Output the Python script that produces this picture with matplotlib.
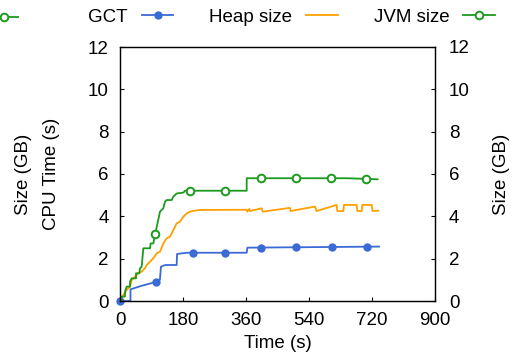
import matplotlib
matplotlib.use('Agg')
import matplotlib.pyplot as plt
from matplotlib.lines import Line2D

plt.rcParams['font.family'] = ['Liberation Sans', 'DejaVu Sans']
plt.rcParams['font.size'] = 13.5

# GCT (CPU time, s)
gct_t = [0, 30, 30, 62, 85, 103, 114, 117, 129, 162, 163, 190, 362, 364, 740]
gct_v = [0, 0, 0.55, 0.72, 0.82, 0.91, 1.0, 1.62, 1.7, 1.7, 2.22, 2.28, 2.28, 2.52, 2.57]
gct_mark_t = [0, 103, 208, 300, 403, 503, 605, 707]
gct_mark_v = [0, 0.91, 2.28, 2.28, 2.52, 2.54, 2.55, 2.57]

# Heap size (GB)
heap_t = [0, 9.5, 19, 28.6, 33.3, 42.9, 52.4, 61.9, 71.4, 76.2, 85.7, 95.2, 104.8, 114.3,
          123.8, 133.3, 142.9, 152.4, 161.9, 171.4, 181, 190.5, 200, 214, 228.6, 343, 362,
          364, 369.5, 371.4, 404.8, 407.6, 485.7, 487, 557, 561.9, 619, 621, 638, 640,
          676, 678, 690.5, 692.4, 719, 721.9, 738]
heap_v = [0, 0.28, 0.52, 0.68, 0.99, 1.15, 1.31, 1.39, 1.55, 1.70, 1.86, 2.02, 2.25, 2.33,
          2.72, 2.96, 3.04, 3.35, 3.67, 3.75, 3.98, 4.14, 4.22, 4.27, 4.30, 4.31, 4.31,
          4.22, 4.35, 4.25, 4.38, 4.22, 4.40, 4.25, 4.46, 4.25, 4.54, 4.25, 4.25, 4.54,
          4.54, 4.25, 4.25, 4.54, 4.54, 4.25, 4.27]

# JVM size (GB)
jvm_t = [0, 4.8, 4.8, 14.3, 14.3, 19, 28.6, 28.6, 33.3, 45.7, 45.7, 55.2, 57.1, 61.9, 66.7,
         85.7, 87.6, 95.2, 100, 114.3, 123.8, 128.6, 133.3, 147.6, 152.4, 161.9, 181, 185.7,
         362, 362, 650, 736]
jvm_v = [0, 0, 0.21, 0.21, 0.44, 0.68, 0.68, 0.91, 1.07, 1.07, 1.31, 1.31, 1.54, 1.62, 2.49,
         2.49, 2.72, 2.72, 3.12, 4.22, 4.38, 4.69, 4.77, 4.77, 4.93, 5.08, 5.12, 5.21,
         5.21, 5.80, 5.80, 5.75]
jvm_mark_t = [100, 200, 300, 403, 503, 604, 703]
jvm_mark_v = [3.15, 5.21, 5.21, 5.80, 5.80, 5.80, 5.75]

blue = '#3a6ad6'
orange = '#ffa000'
green = '#1c9a1c'

fig = plt.figure(figsize=(5.13, 3.64), dpi=100)
ax = fig.add_axes([120/513, 63/364, 315/513, 254/364])

ax.plot(gct_t, gct_v, color=blue, lw=1.3)
ax.plot(gct_mark_t, gct_mark_v, 'o', color=blue, ms=5, clip_on=False)
ax.plot(heap_t, heap_v, color=orange, lw=1.3)
ax.plot(jvm_t, jvm_v, color=green, lw=1.3)
ax.plot(jvm_mark_t, jvm_mark_v, 'o', color=green, mfc='white', mew=1.4, ms=5.5)

ax.set_xlim(0, 900)
ax.set_ylim(0, 12)
ax.set_xticks(range(0, 901, 180))
ax.set_yticks(range(0, 13, 2))
ax.tick_params(direction='in', length=3, width=0.8, pad=8, top=False, right=False)
ax.set_xlabel('Time (s)', labelpad=4)
ax.set_ylabel('Size (GB)\nCPU Time (s)', linespacing=1.9, labelpad=20)
for s in ax.spines.values():
    s.set_linewidth(1.0)
    s.set_color('#222222')

ax2 = ax.twinx()
ax2.set_ylim(0, 12)
ax2.set_yticks(range(0, 13, 2))
ax2.tick_params(direction='in', length=3, width=0.8, pad=10)
ax2.set_ylabel('Size (GB)', labelpad=17)

handles = [
    Line2D([], [], color=blue, lw=1.3, marker='o', ms=5),
    Line2D([], [], color=orange, lw=1.3),
    Line2D([], [], color=green, lw=1.3, marker='o', mfc='white', mew=1.4, ms=5.5),
]
fig.legend(handles, ['GCT', 'Heap size', 'JVM size'], ncol=3, markerfirst=False,
           frameon=False, loc='center right', bbox_to_anchor=(0.98, 0.953),
           handlelength=1.7, handletextpad=0.75, columnspacing=1.9, borderaxespad=0)

# clipped key sample at the left edge
fig.add_artist(Line2D([-0.03, 0.035], [0.953, 0.953], color=green, lw=1.3,
                      transform=fig.transFigure))
fig.add_artist(Line2D([0.008], [0.953], color=green, marker='o', mfc='white', mew=1.4,
                      ms=5.5, transform=fig.transFigure))

fig.savefig('out.png', dpi=100)
